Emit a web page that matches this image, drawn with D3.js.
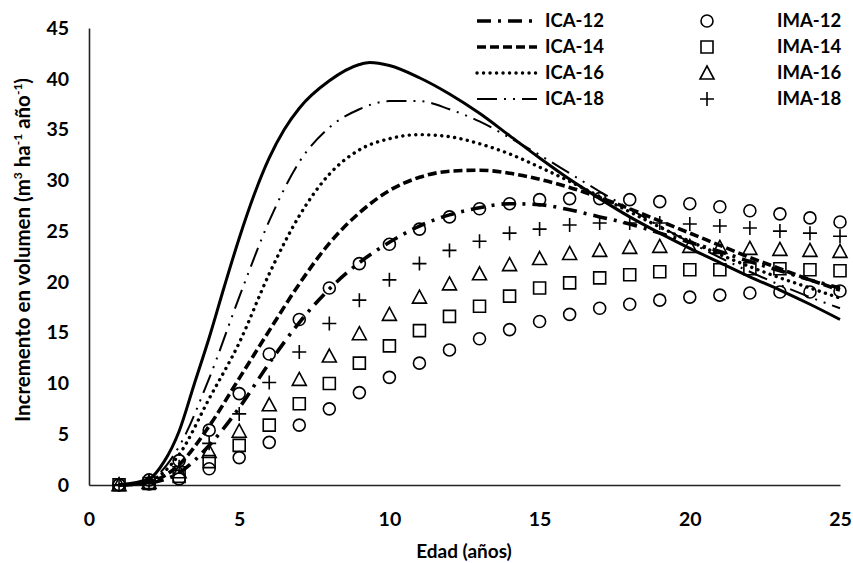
<!DOCTYPE html>
<html><head><meta charset="utf-8">
<script src="https://cdn.jsdelivr.net/npm/d3@7"></script>
<style>body{margin:0;background:#fff}text{font-family:Lato,"Open Sans",sans-serif;font-weight:bold;fill:#000}</style>
</head><body>
<svg id="c" width="853" height="563"></svg>
<script>
// ---- data ----
const ages = d3.range(1, 26);
const xTicks = [0, 5, 10, 15, 20, 25];
const yTicks = [0, 5, 10, 15, 20, 25, 30, 35, 40, 45];

// ICA curves: [age, value]
const ica12 = [[1,0],[2,0.2],[3,1.2],[4,3.9],[5,7.6],[6,12.0],[7,16.0],[8,19.3],[9,21.9],[10,23.9],[11,25.5],[12,26.6],[13,27.3],[14,27.7],[15,27.6],[16,27.1],[17,26.4],[18,25.7],[19,24.8],[20,23.9],[21,23.0],[22,22.0],[23,21.1],[24,20.2],[25,19.4]];
const ica14 = [[1,0],[2,0.3],[3,2.0],[4,5.8],[5,10.5],[6,15.2],[7,19.8],[8,23.8],[9,26.8],[10,29.0],[11,30.3],[12,30.9],[13,31.0],[14,30.7],[15,30.1],[16,29.3],[17,28.3],[18,27.2],[19,26.0],[20,24.8],[21,23.6],[22,22.4],[23,21.3],[24,20.2],[25,19.2]];
const ica16 = [[1,0],[2,0.4],[3,3.0],[4,8.5],[5,14.0],[6,20.8],[7,26.5],[8,30.6],[9,33.0],[10,34.1],[11,34.5],[12,34.3],[13,33.6],[14,32.6],[15,31.3],[16,29.9],[17,28.4],[18,26.9],[19,25.4],[20,24.0],[21,22.7],[22,21.5],[23,20.4],[24,19.4],[25,18.4]];
const ica18 = [[1,0],[2,0.5],[3,3.8],[4,10.5],[5,18.5],[6,26.0],[7,31.8],[8,35.2],[9,37.0],[10,37.8],[11,37.8],[12,37.0],[13,35.8],[14,34.2],[15,32.5],[16,30.7],[17,28.9],[18,27.2],[19,25.5],[20,23.9],[21,22.4],[22,21.0],[23,19.7],[24,18.5],[25,17.4]];
const ica20 = [[1,0],[2,0.6],[2.5,2.3],[3,5.3],[3.5,9.9],[4,14.5],[4.5,19.5],[5,24.3],[5.5,28.6],[6,32.2],[6.5,35.0],[7,37.1],[8,39.8],[9,41.4],[9.35,41.6],[10,41.3],[11,40.1],[12,38.5],[13,36.6],[14,34.4],[15,32.2],[16,30.1],[17,28.2],[18,26.4],[19,24.8],[20,23.3],[21,21.9],[22,20.5],[23,19.2],[24,17.8],[25,16.3]];

// IMA values at ages 1..25
const ima12 = [0.02,0.1,0.6,1.6,2.7,4.2,5.9,7.5,9.1,10.6,12.0,13.3,14.4,15.3,16.1,16.8,17.4,17.8,18.2,18.5,18.7,18.9,19.0,19.0,19.1];
const ima14 = [0.02,0.15,0.85,2.3,3.9,5.9,8.0,10.0,12.0,13.7,15.2,16.6,17.6,18.6,19.4,19.9,20.4,20.7,21.0,21.2,21.2,21.3,21.3,21.2,21.1];
const ima16 = [0.03,0.25,1.3,3.3,5.3,7.9,10.4,12.7,14.9,16.8,18.5,19.8,20.8,21.7,22.3,22.8,23.1,23.4,23.5,23.5,23.4,23.3,23.2,23.1,23.0];
const ima18 = [0.03,0.35,1.8,4.1,7.0,10.1,13.1,15.9,18.2,20.2,21.8,23.1,24.0,24.8,25.2,25.6,25.8,25.8,25.8,25.7,25.5,25.3,25.0,24.8,24.5];
const ima20 = [0.04,0.5,2.4,5.4,9.0,12.9,16.3,19.4,21.8,23.7,25.2,26.4,27.2,27.7,28.1,28.2,28.2,28.1,27.9,27.7,27.4,27.0,26.7,26.3,25.9];

const icaNames = ["ICA-12","ICA-14","ICA-16","ICA-18"];
const imaNames = ["IMA-12","IMA-14","IMA-16","IMA-18"];

// ---- styles ----
const lineStyles = [
  {data: ica12, w: 3.6, dash: "14 7 3 7", cap: "butt"},
  {data: ica14, w: 3.6, dash: "9 4", cap: "butt"},
  {data: ica16, w: 3.4, dash: "0.1 6.4", cap: "round"},
  {data: ica18, w: 2.0, dash: "20 7 2 7 2 7", cap: "butt"},
  {data: ica20, w: 3.0, dash: null, cap: "butt"}
];
const markerSeries = [
  {data: ima12, shape: "circle"},
  {data: ima14, shape: "square"},
  {data: ima16, shape: "triangle"},
  {data: ima18, shape: "plus"},
  {data: ima20, shape: "circle"}
];

const svg = d3.select("#c");
const x = d3.scaleLinear().domain([0, 25]).range([89, 840]);
const y = d3.scaleLinear().domain([0, 45]).range([485, 28]);

function markerPath(shape) {
  const p = d3.path();
  if (shape === "circle") { p.arc(0, 0, 6, 0, 2 * Math.PI); }
  else if (shape === "square") { p.rect(-6, -6, 12, 12); }
  else if (shape === "triangle") { p.moveTo(0, -7); p.lineTo(7, 6); p.lineTo(-7, 6); p.closePath(); }
  else { p.moveTo(-7, 0); p.lineTo(7, 0); p.moveTo(0, -7); p.lineTo(0, 7); }
  return p.toString();
}

// axes
const xAxis = d3.axisBottom(x).tickValues(xTicks).tickSize(0).tickPadding(27).tickFormat(d3.format("d"));
const yAxis = d3.axisLeft(y).tickValues(yTicks).tickSize(0).tickPadding(20).tickFormat(d3.format("d"));
const gx = svg.append("g").attr("transform", "translate(0,485)").call(xAxis);
const gy = svg.append("g").attr("transform", "translate(89,0)").call(yAxis);
[gx, gy].forEach(g => {
  g.select(".domain").attr("stroke", "#222").attr("stroke-width", 1.6);
  g.selectAll("text").style("font-size", "19.5px").style("font-family", "Lato").style("font-weight", "bold").attr("fill", "#000");
});

// lines
const line = d3.line().x(d => x(d[0])).y(d => y(d[1])).curve(d3.curveMonotoneX);
lineStyles.forEach(s => {
  svg.append("path").attr("d", line(s.data)).attr("fill", "none").attr("stroke", "#000")
    .attr("stroke-width", s.w).attr("stroke-dasharray", s.dash).attr("stroke-linecap", s.cap);
});

// markers
markerSeries.forEach(s => {
  svg.append("g").selectAll("path").data(s.data).join("path")
    .attr("transform", (d, i) => `translate(${x(ages[i])},${y(d)})`)
    .attr("d", markerPath(s.shape)).attr("fill", "none").attr("stroke", "#000").attr("stroke-width", 1.6);
});

// axis titles
svg.append("text").attr("x", 464).attr("y", 558).attr("text-anchor", "middle").style("font-size", "19px").text("Edad (años)");
const yt = svg.append("text").attr("transform", "translate(30,250) rotate(-90)").attr("text-anchor", "middle").style("font-size", "20.5px");
yt.append("tspan").text("Incremento en volumen (m");
yt.append("tspan").attr("dy", -8).style("font-size", "12px").text("3");
yt.append("tspan").attr("dy", 8).text(" ha");
yt.append("tspan").attr("dy", -8).style("font-size", "12px").text("-1");
yt.append("tspan").attr("dy", 8).text(" año");
yt.append("tspan").attr("dy", -8).style("font-size", "12px").text("-1");
yt.append("tspan").attr("dy", 8).text(")");

// legend
const rowY = [21, 47, 73, 99];
lineStyles.slice(0, 4).forEach((s, i) => {
  svg.append("line").attr("x1", 477).attr("x2", 537).attr("y1", rowY[i]).attr("y2", rowY[i])
    .attr("stroke", "#000").attr("stroke-width", s.w).attr("stroke-dasharray", s.dash).attr("stroke-linecap", s.cap);
  svg.append("text").attr("x", 545).attr("y", rowY[i]).attr("dy", "0.35em").style("font-size", "18.5px").text(icaNames[i]);
});
markerSeries.slice(0, 4).forEach((s, i) => {
  svg.append("path").attr("transform", `translate(707,${rowY[i]})`).attr("d", markerPath(s.shape))
    .attr("fill", "none").attr("stroke", "#000").attr("stroke-width", 1.6);
  svg.append("text").attr("x", 777).attr("y", rowY[i]).attr("dy", "0.35em").style("font-size", "18.5px").text(imaNames[i]);
});
</script>
</body></html>
